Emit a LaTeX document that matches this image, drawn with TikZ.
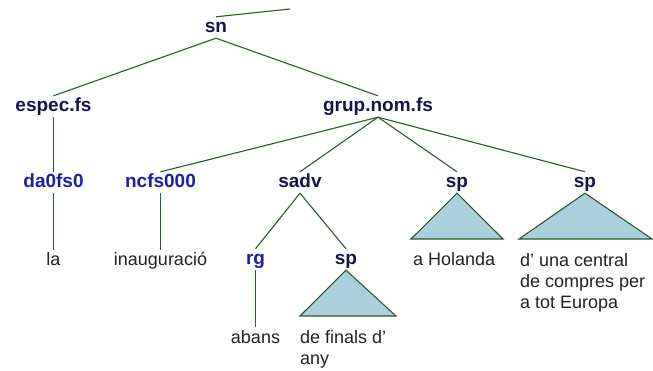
\documentclass[tikz,border=0pt]{standalone}
\usepackage{fontspec}
\setmainfont{Liberation Sans}
\definecolor{edgecol}{HTML}{2B5A2B}
\definecolor{phrasecol}{HTML}{15154A}
\definecolor{tagcol}{HTML}{1E1EA0}
\definecolor{leafcol}{HTML}{222222}
\definecolor{tricol}{HTML}{A9D0DC}
\begin{document}
\begin{tikzpicture}[x=1pt,y=-1pt,
 lab/.style={inner sep=0pt, text height=16pt, text depth=5pt, anchor=base, font=\fontsize{19}{21}\selectfont\bfseries},
 phr/.style={lab, text=phrasecol},
 postag/.style={lab, text=tagcol},
 lf/.style={inner sep=0pt, text height=16pt, text depth=5pt, anchor=base, font=\fontsize{18}{21}\selectfont, text=leafcol},
 mlf/.style={inner sep=0pt, anchor=north west, align=left, font=\fontsize{18}{21}\selectfont, text=leafcol},
 br/.style={draw=edgecol, line width=1.1pt},
 trishape/.style={draw=edgecol, line width=1.1pt, fill=tricol, line join=miter}]
\fill[white] (0,0) rectangle (653,371);
\useasboundingbox (0,0) rectangle (653,371);
% nodes
\node[phr] (sn) at (216,33) {sn};
\coordinate (top) at (290,9);
\node[phr] (espec) at (53.5,112) {espec.fs};
\node[phr] (grup) at (378,112) {grup.nom.fs};
\node[postag] (da) at (53.5,188) {da0fs0};
\node[postag] (nc) at (160.5,188) {ncfs000};
\node[phr] (sadv) at (300,188) {sadv};
\node[phr] (spa) at (457,188) {sp};
\node[phr] (spb) at (585,188) {sp};
\node[lf] (la) at (53.5,266) {la};
\node[lf] (inaug) at (160.5,266) {inauguració};
\node[postag] (rg) at (255.5,265) {rg};
\node[phr] (spc) at (346,265) {sp};
\node[lf] (abans) at (255.5,343) {abans};
\node[mlf] (finals) at (300,330) {de finals d’\\any};
\node[lf, anchor=base west] (holanda) at (413,266) {a Holanda};
\node[mlf] (central) at (520,253) {d’ una central\\de compres per\\a tot Europa};
% triangle corners
\coordinate (al) at (411,239); \coordinate (ar) at (503,239);
\coordinate (bl) at (519,239); \coordinate (brr) at (652,239);
\coordinate (cl) at (300,316); \coordinate (cr) at (396,316);
% edges
\draw[br] (sn.north) -- (top);
\draw[br] (sn.south) -- (espec.north);
\draw[br] (sn.south) -- (grup.north);
\draw[br] (espec.south) -- (da.north);
\draw[br] (grup.south) -- (nc.north);
\draw[br] (grup.south) -- (sadv.north);
\draw[br] (grup.south) -- (spa.north);
\draw[br] (grup.south) -- (spb.north);
\draw[br] (da.south) -- (la.north);
\draw[br] (nc.south) -- (inaug.north);
\draw[br] (sadv.south) -- (rg.north);
\draw[br] (sadv.south) -- (spc.north);
\draw[br] (rg.south) -- (abans.north);
\draw[trishape] (spa.south) -- (al) -- (ar) -- cycle;
\draw[trishape] (spb.south) -- (bl) -- (brr) -- cycle;
\draw[trishape] (spc.south) -- (cl) -- (cr) -- cycle;
\end{tikzpicture}
\end{document}
